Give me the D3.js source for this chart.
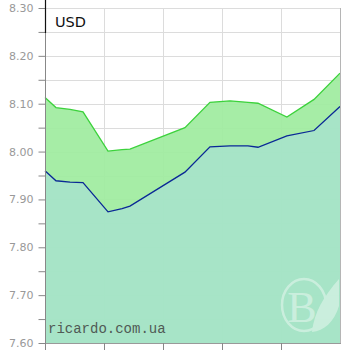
<!DOCTYPE html>
<html>
<head>
<meta charset="utf-8">
<script src="https://cdn.jsdelivr.net/npm/d3@7/dist/d3.min.js"></script>
<style>
html,body{margin:0;padding:0;background:#fff;}
svg{display:block;}
</style>
</head>
<body>
<svg id="chart" width="350" height="350"></svg>
<script>
// Data (day offsets in the period, USD rates)
const days  = [0, 0.93, 2.12, 3.22, 5.34, 6.53, 7.2, 11.86, 13.98, 15.68, 17.2, 18.05, 20.5, 22.8, 25];
const upper = [8.113, 8.092, 8.088, 8.083, 8.001, 8.004, 8.005, 8.050, 8.103, 8.106, 8.103, 8.101, 8.072, 8.109, 8.164];
const lower = [7.960, 7.939, 7.936, 7.935, 7.874, 7.881, 7.886, 7.957, 8.010, 8.012, 8.012, 8.009, 8.033, 8.044, 8.094];
const yTicks = [7.60, 7.70, 7.80, 7.90, 8.00, 8.10, 8.20, 8.30];
const yMinor = [7.65, 7.75, 7.85, 7.95, 8.05, 8.15, 8.25];
const xTicks = [5, 10, 15, 20];
const seriesLabel = "USD";
const sourceLabel = "ricardo.com.ua";

const svg = d3.select("#chart");
const L = 45, R = 340, T = 8, B = 343;
const x = d3.scaleLinear().domain([0, 25]).range([L, R]);
const y = d3.scaleLinear().domain([7.6, 8.3]).range([B, T]);

const pts = days.map((d, i) => ({d, u: upper[i], l: lower[i]}));

// background grid
const grid = svg.append("g");
grid.selectAll("line.h").data(yTicks.concat(yMinor)).enter().append("line")
  .attr("x1", L).attr("x2", R).attr("y1", d => Math.round(y(d)) + 0.5).attr("y2", d => Math.round(y(d)) + 0.5)
  .attr("stroke", "#dcdcdc");
grid.selectAll("line.v").data(xTicks).enter().append("line")
  .attr("y1", T).attr("y2", B).attr("x1", d => Math.round(x(d)) + 0.5).attr("x2", d => Math.round(x(d)) + 0.5)
  .attr("stroke", "#dcdcdc");

// areas
const areaU = d3.area().x(p => x(p.d)).y0(y(7.6)).y1(p => y(p.u));
const areaL = d3.area().x(p => x(p.d)).y0(y(7.6)).y1(p => y(p.l));
svg.append("path").datum(pts).attr("d", areaU).attr("fill", "rgb(158,236,158)").attr("fill-opacity", 0.92);
svg.append("path").datum(pts).attr("d", areaL).attr("fill", "rgb(166,228,200)").attr("fill-opacity", 0.95);

// lines
svg.append("path").datum(pts).attr("d", d3.line().x(p => x(p.d)).y(p => y(p.u)))
  .attr("fill", "none").attr("stroke", "rgb(60,210,60)").attr("stroke-width", 1.3);
svg.append("path").datum(pts).attr("d", d3.line().x(p => x(p.d)).y(p => y(p.l)))
  .attr("fill", "none").attr("stroke", "rgb(10,40,150)").attr("stroke-width", 1.3);

// frame (right & bottom)
svg.append("line").attr("x1", R + 0.5).attr("x2", R + 0.5).attr("y1", T).attr("y2", B).attr("stroke", "#b5b5b5");
svg.append("line").attr("x1", L).attr("x2", R + 1).attr("y1", B + 0.5).attr("y2", B + 0.5).attr("stroke", "#999");

// watermark logo
const wm = svg.append("g").attr("opacity", 0.4);
wm.append("ellipse").attr("cx", 304).attr("cy", 305).attr("rx", 22).attr("ry", 26).attr("fill", "none").attr("stroke", "#fff").attr("stroke-width", 2.5);
wm.append("text").attr("x", 302).attr("y", 322).attr("text-anchor", "middle")
  .attr("font-family", "Liberation Serif, serif").attr("font-size", 44).attr("fill", "#fff").text("B");
wm.append("path").attr("d", "M312,332 C314,312 324,296 339,279 L339,306 C334,322 324,331 312,332 Z").attr("fill", "#fff");

// y axis
const yAxis = d3.axisLeft(y).tickValues(yTicks).tickSize(7).tickPadding(5).tickFormat(d3.format(".2f"));
const ya = svg.append("g").attr("transform", `translate(${L + 0.5},0)`).call(yAxis);
ya.select(".domain").attr("stroke", "#888").attr("d", `M0,${T}V350`);
ya.selectAll(".tick line").attr("stroke", "#888");
ya.selectAll(".tick text").attr("fill", "#999").attr("font-family", "DejaVu Sans, Verdana, sans-serif").attr("font-size", 11);
const yMinorAxis = d3.axisLeft(y).tickValues(yMinor).tickSize(7).tickFormat("");
const ym = svg.append("g").attr("transform", `translate(${L + 0.5},0)`).call(yMinorAxis);
ym.select(".domain").remove();
ym.selectAll(".tick line").attr("stroke", "#888");

// x axis ticks (no labels)
const xAxis = d3.axisBottom(x).tickValues(xTicks).tickSize(7).tickFormat("");
const xa = svg.append("g").attr("transform", `translate(0,${B})`).call(xAxis);
xa.select(".domain").remove();
xa.selectAll(".tick line").attr("stroke", "#888");

// black mark at top of axis
svg.append("line").attr("x1", L + 0.5).attr("x2", L + 0.5).attr("y1", 0).attr("y2", 33).attr("stroke", "#111").attr("stroke-width", 1.2);

// labels
svg.append("text").attr("x", 55).attr("y", 27).attr("font-family", "DejaVu Sans, Verdana, sans-serif")
  .attr("font-size", 14.5).attr("fill", "#111").text(seriesLabel);
svg.append("text").attr("x", 48).attr("y", 333).attr("font-family", "Liberation Mono, Courier New, monospace")
  .attr("font-size", 14).attr("fill", "#505a55").text(sourceLabel);
</script>
</body>
</html>
